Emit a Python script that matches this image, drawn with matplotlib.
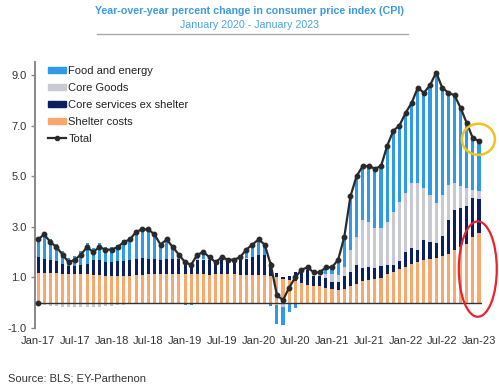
import numpy as np
import matplotlib
matplotlib.use("Agg")
import matplotlib.pyplot as plt
from matplotlib.patches import Patch, Ellipse
from matplotlib.lines import Line2D

plt.rcParams['font.family'] = ['Liberation Sans', 'DejaVu Sans']

# months Jan-17 .. Jan-23
months = ["Jan-17", "Feb-17", "Mar-17", "Apr-17", "May-17", "Jun-17", "Jul-17", "Aug-17", "Sep-17", "Oct-17", "Nov-17", "Dec-17",
          "Jan-18", "Feb-18", "Mar-18", "Apr-18", "May-18", "Jun-18", "Jul-18", "Aug-18", "Sep-18", "Oct-18", "Nov-18", "Dec-18",
          "Jan-19", "Feb-19", "Mar-19", "Apr-19", "May-19", "Jun-19", "Jul-19", "Aug-19", "Sep-19", "Oct-19", "Nov-19", "Dec-19",
          "Jan-20", "Feb-20", "Mar-20", "Apr-20", "May-20", "Jun-20", "Jul-20", "Aug-20", "Sep-20", "Oct-20", "Nov-20", "Dec-20",
          "Jan-21", "Feb-21", "Mar-21", "Apr-21", "May-21", "Jun-21", "Jul-21", "Aug-21", "Sep-21", "Oct-21", "Nov-21", "Dec-21",
          "Jan-22", "Feb-22", "Mar-22", "Apr-22", "May-22", "Jun-22", "Jul-22", "Aug-22", "Sep-22", "Oct-22", "Nov-22", "Dec-22",
          "Jan-23"]

shelter = [1.18, 1.18, 1.17, 1.16, 1.14, 1.13, 1.13, 1.13, 1.13, 1.10, 1.10, 1.07,
           1.05, 1.06, 1.04, 1.05, 1.08, 1.10, 1.12, 1.12, 1.12, 1.13, 1.14, 1.14,
           1.12, 1.12, 1.13, 1.12, 1.11, 1.12, 1.12, 1.12, 1.13, 1.11, 1.11, 1.10,
           1.09, 1.09, 1.07, 1.02, 0.92, 0.90, 0.84, 0.78, 0.72, 0.68, 0.65, 0.60,
           0.55, 0.52, 0.56, 0.68, 0.73, 0.84, 0.90, 0.92, 0.98, 1.12, 1.22, 1.33,
           1.42, 1.52, 1.62, 1.68, 1.72, 1.77, 1.85, 1.93, 2.08, 2.22, 2.33, 2.58,
           2.74]

core_services = [0.61, 0.53, 0.52, 0.50, 0.41, 0.32, 0.32, 0.36, 0.42, 0.59, 0.59, 0.55,
                 0.57, 0.57, 0.60, 0.62, 0.65, 0.68, 0.60, 0.60, 0.58, 0.58, 0.57, 0.57,
                 0.52, 0.45, 0.55, 0.56, 0.56, 0.45, 0.55, 0.60, 0.62, 0.60, 0.62, 0.70,
                 0.79, 0.79, 0.55, 0.14, 0.08, 0.14, 0.38, 0.50, 0.58, 0.38, 0.42, 0.38,
                 0.26, 0.30, 0.50, 0.55, 0.77, 0.55, 0.53, 0.46, 0.48, 0.38, 0.28, 0.33,
                 0.59, 0.63, 0.47, 0.80, 0.70, 0.59, 0.77, 1.35, 1.59, 1.52, 1.48, 1.56,
                 1.36]

core_goods = [-0.10, -0.10, -0.12, -0.12, -0.15, -0.15, -0.15, -0.15, -0.15, -0.15, -0.15, -0.12,
              -0.12, -0.10, -0.08, -0.06, -0.05, -0.05, -0.04, -0.05, -0.03, -0.03, -0.03, -0.03,
              0.04, 0.03, 0.03, 0.05, 0.04, 0.03, 0.05, 0.05, 0.02, 0.02, 0.02, -0.03,
              -0.02, -0.02, -0.03, -0.10, -0.15, -0.05, -0.02, 0.08, 0.12, 0.12, 0.14, 0.15,
              0.32, 0.28, 0.35, 0.85, 1.10, 1.90, 1.78, 1.59, 1.49, 1.71, 2.10, 2.31,
              2.32, 2.58, 2.65, 2.05, 1.85, 1.59, 1.65, 1.39, 1.06, 0.86, 0.74, 0.33,
              0.30]

food_energy = [0.81, 1.09, 0.83, 0.66, 0.50, 0.30, 0.40, 0.56, 0.80, 0.46, 0.66, 0.60,
               0.60, 0.67, 0.84, 0.89, 1.12, 1.17, 1.22, 1.03, 0.63, 0.82, 0.52, 0.22,
               -0.08, -0.10, 0.19, 0.27, 0.09, 0.00, 0.08, -0.07, -0.07, 0.07, 0.35, 0.53,
               0.64, 0.44, -0.09, -0.76, -0.72, -0.32, -0.18, 0.00, 0.00, 0.02, -0.04, 0.27,
               0.27, 0.60, 1.19, 2.12, 2.40, 2.11, 2.19, 2.33, 2.45, 2.99, 3.20, 3.03,
               3.17, 3.17, 3.76, 3.77, 4.33, 5.15, 4.23, 3.63, 3.47, 3.10, 2.55, 2.03,
               2.00]

total = [2.5, 2.7, 2.4, 2.2, 1.9, 1.6, 1.7, 1.9, 2.2, 2.0, 2.2, 2.1,
         2.1, 2.2, 2.4, 2.5, 2.8, 2.9, 2.9, 2.7, 2.3, 2.5, 2.2, 1.9,
         1.6, 1.5, 1.9, 2.0, 1.8, 1.6, 1.8, 1.7, 1.7, 1.8, 2.1, 2.3,
         2.5, 2.3, 1.5, 0.3, 0.1, 0.6, 1.0, 1.3, 1.4, 1.2, 1.2, 1.4,
         1.4, 1.7, 2.6, 4.2, 5.0, 5.4, 5.4, 5.3, 5.4, 6.2, 6.8, 7.0,
         7.5, 7.9, 8.5, 8.3, 8.6, 9.1, 8.5, 8.3, 8.2, 7.7, 7.1, 6.5,
         6.4]

stray_point = [0.0]  # lone marker at zero under Jan-17 in the original

x = np.arange(len(months))

fig = plt.figure(figsize=(4.99, 3.89), dpi=100)
ax = fig.add_axes([0.0701, 0.1568, 0.896, 0.684])

series = [(shelter, "#f7a86c", "Shelter costs"),
          (core_services, "#0c1f5e", "Core services ex shelter"),
          (core_goods, "#c9c9d1", "Core Goods"),
          (food_energy, "#2f9be8", "Food and energy")]

pos = np.zeros(len(x))
neg = np.zeros(len(x))
for vals, col, name in series:
    v = np.array(vals)
    b = np.where(v >= 0, pos, neg)
    ax.bar(x, v, bottom=b, width=0.5, color=col, linewidth=0)
    pos += np.clip(v, 0, None)
    neg += np.clip(v, None, 0)

ax.axhline(0, color="#333333", lw=1.0, zorder=2)
ax.plot(x, total, color="#2a2a2a", lw=1.6, marker="o", ms=3.2, zorder=4)
ax.plot(x[:1], stray_point, "o", color="#2a2a2a", ms=3.2, zorder=4)

ax.set_xlim(-0.5, 72.5)
ax.set_ylim(-1.0, 9.52)
ax.set_yticks([-1.0, 1.0, 3.0, 5.0, 7.0, 9.0])
ax.set_yticklabels(["-1.0", "1.0", "3.0", "5.0", "7.0", "9.0"])
ax.set_xticks(x[::6])
ax.set_xticklabels(months[::6])
ax.tick_params(axis="y", length=3, width=1, color="#888888", labelsize=8, labelcolor="#333333", pad=3)
ax.tick_params(axis="x", length=0, labelsize=8, labelcolor="#333333", pad=6)
for s in ["top", "right", "bottom"]:
    ax.spines[s].set_visible(False)
ax.spines["left"].set_color("#888888")
ax.spines["left"].set_linewidth(1.4)

# highlight shapes
ax.add_patch(Ellipse((71.9, 6.46), 5.4, 1.23, fill=False, ec="#f4c21c", lw=1.8, clip_on=False, zorder=5))
ax.add_patch(Ellipse((71.8, 1.33), 6.2, 3.77, fill=False, ec="#e8232b", lw=1.6, clip_on=False, zorder=5))

handles = [Patch(color="#2f9be8", label="Food and energy"),
           Patch(color="#c9c9d1", label="Core Goods"),
           Patch(color="#0c1f5e", label="Core services ex shelter"),
           Patch(color="#f7a86c", label="Shelter costs"),
           Line2D([0], [0], color="#2a2a2a", lw=1.6, marker="o", ms=3, label="Total")]
leg = ax.legend(handles=handles, loc="upper left", bbox_to_anchor=(0.02, 1.0), frameon=False,
                fontsize=8, handlelength=1.6, handleheight=0.45, handletextpad=0.2,
                labelspacing=0.62, borderaxespad=0)
for t in leg.get_texts():
    t.set_color("#222222")

fig.text(0.5, 0.973, "Year-over-year percent change in consumer price index (CPI)",
         ha="center", va="center", fontsize=7.7, fontweight="bold", color="#3b9ae0")
fig.text(0.5, 0.935, "January 2020 - January 2023", ha="center", va="center",
         fontsize=7.7, color="#4aa4e4")
fig.add_artist(Line2D([0.194, 0.818], [0.912, 0.912], color="#aaaaaa", lw=1.0))

fig.text(0.016, 0.028, "Source: BLS; EY-Parthenon", ha="left", va="center", fontsize=8, color="#333333")

fig.savefig("out.png", dpi=100)
